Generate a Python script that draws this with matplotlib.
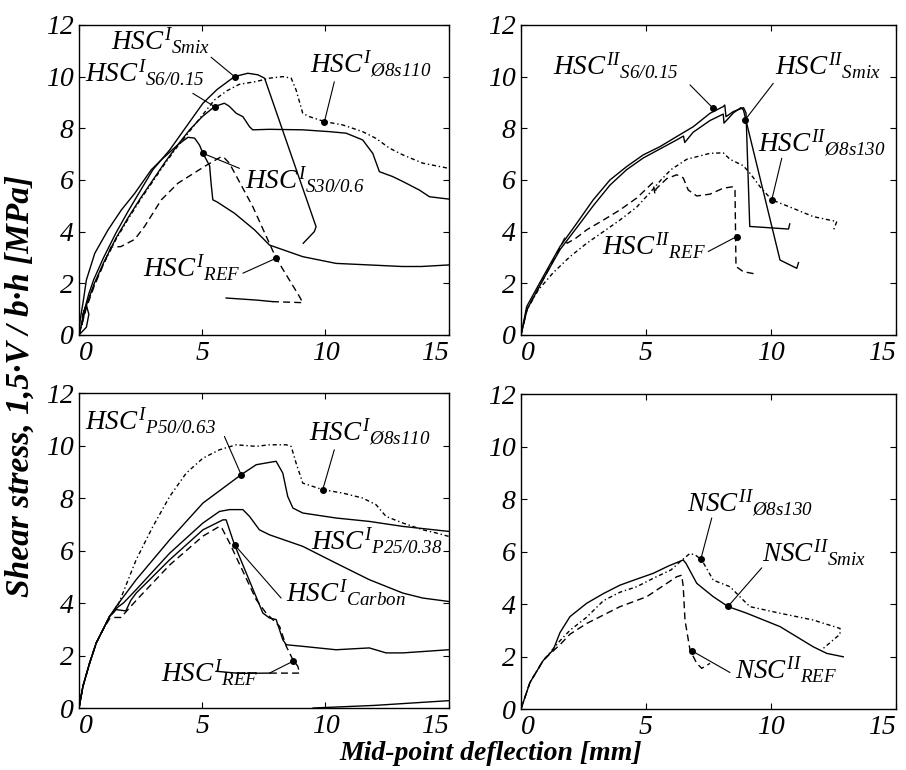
import matplotlib
matplotlib.use("Agg")
import matplotlib.pyplot as plt
from matplotlib import font_manager

# ---- top-left panel (HSC I, steel fibres) ----
TL_SMIX_X = [0, 0.3, 0.4, 0.3, 0.15, 0.12, 0.2, 0.4, 0.6, 1.0, 1.5, 2.0, 2.5, 3.0, 3.68, 4.35, 5.03, 5.6, 6.31, 6.85, 7.26, 7.53, 9.62, 9.55, 9.35, 9.1]
TL_SMIX_Y = [0, 0.3, 0.8, 1.15, 0.8, 0.4, 0.9, 1.6, 2.15, 3.0, 3.95, 4.8, 5.6, 6.4, 7.16, 8.06, 8.97, 9.5, 10.0, 10.13, 10.07, 9.94, 4.19, 4.0, 3.8, 3.55]
TL_S30_X = [0, 0.05, 0.16, 0.30, 0.64, 1.18, 1.72, 2.26, 2.93, 3.34, 4.01, 4.42, 4.69, 4.89, 5.03, 5.30, 5.36, 5.43, 5.6, 6.31, 7.12, 7.73, 9.08, 10.43, 11.78, 13.1, 13.9, 15.0]
TL_S30_Y = [0, 0.6, 1.23, 2.13, 3.16, 4.07, 4.84, 5.48, 6.39, 6.78, 7.36, 7.65, 7.62, 7.35, 7.03, 6.55, 5.87, 5.23, 5.15, 4.71, 4.07, 3.48, 3.03, 2.77, 2.71, 2.65, 2.65, 2.71]
TL_S6_X = [0, 0.3, 0.6, 1.0, 1.5, 2.0, 2.5, 3.0, 3.5, 4.0, 4.5, 5.0, 5.5, 5.9, 6.1, 6.38, 6.65, 6.92, 7.05, 7.73, 9.08, 10.16, 10.84, 11.51, 11.92, 12.19, 12.73, 13.14, 13.81, 14.22, 15.0]
TL_S6_Y = [0, 1.15, 1.95, 2.8, 3.75, 4.55, 5.3, 6.0, 6.7, 7.35, 7.95, 8.45, 8.84, 8.97, 8.85, 8.58, 8.45, 8.06, 7.94, 7.96, 7.94, 7.87, 7.81, 7.55, 7.03, 6.32, 6.13, 5.94, 5.61, 5.35, 5.26]
TL_D8_X = [0, 0.3, 0.6, 1.0, 1.5, 2.0, 2.5, 3.0, 3.5, 4.0, 4.5, 5.0, 5.5, 6.0, 6.5, 7.19, 7.73, 8.27, 8.61, 8.81, 9.08, 9.35, 9.96, 10.7, 11.51, 12.05, 12.6, 13.14, 13.95, 15.0]
TL_D8_Y = [0, 1.1, 1.9, 2.75, 3.7, 4.5, 5.25, 5.95, 6.65, 7.3, 7.9, 8.5, 9.1, 9.45, 9.7, 9.81, 9.94, 10.0, 9.94, 9.48, 8.58, 8.45, 8.26, 8.13, 7.87, 7.61, 7.23, 6.97, 6.65, 6.45]
TL_REF_X = [0, 0.3, 0.6, 1.0, 1.3, 1.7, 2.26, 2.66, 3.34, 4.01, 5.09, 5.77, 5.9, 6.1, 7.05, 8.0, 8.95, 9.08, 7.86]
TL_REF_Y = [0, 1.05, 1.85, 2.75, 3.4, 3.42, 3.7, 4.2, 5.23, 5.87, 6.52, 6.9, 6.85, 6.65, 4.97, 2.97, 1.48, 1.25, 1.29]
TL_TAIL_X = [7.86, 7.2, 5.97]
TL_TAIL_Y = [1.29, 1.35, 1.43]

# ---- top-right panel (HSC II) ----
TR_S6_X = [0, 0.23, 0.89, 1.56, 2.23, 2.89, 3.56, 4.23, 4.89, 5.56, 6.23, 6.89, 7.56, 8.09, 8.15, 8.2, 8.5, 8.9, 9.0, 9.15, 10.7, 10.75]
TR_S6_Y = [0, 1.1, 2.26, 3.42, 4.32, 5.23, 6.0, 6.52, 6.97, 7.29, 7.68, 8.06, 8.58, 8.84, 8.9, 8.45, 8.65, 8.8, 8.6, 4.2, 4.1, 4.3]
TR_SMIX_X = [0, 0.25, 0.89, 1.56, 2.23, 2.89, 3.56, 4.23, 4.89, 5.56, 6.23, 6.5, 6.55, 6.89, 7.56, 8.09, 8.12, 8.5, 8.8, 8.9, 10.36, 11.03, 11.1]
TR_SMIX_Y = [0, 1.0, 2.15, 3.3, 4.15, 5.0, 5.8, 6.4, 6.85, 7.2, 7.55, 7.7, 7.45, 7.85, 8.3, 8.55, 8.2, 8.6, 8.8, 8.7, 2.9, 2.58, 2.8]
TR_D8_X = [0, 0.23, 0.7, 1.28, 1.96, 2.63, 3.3, 3.96, 4.63, 5.2, 5.6, 6.0, 6.63, 7.56, 8.09, 8.36, 8.89, 9.16, 9.56, 10.03, 10.89, 11.69, 12.63, 12.5]
TR_D8_Y = [0, 0.97, 1.75, 2.4, 3.03, 3.55, 4.0, 4.45, 4.95, 5.55, 6.0, 6.4, 6.8, 7.03, 7.05, 6.8, 6.55, 6.26, 5.74, 5.23, 4.9, 4.58, 4.39, 4.06]
TR_REF_X = [0, 0.25, 0.89, 1.5, 1.75, 1.85, 2.2, 2.63, 3.3, 3.96, 4.63, 5.28, 5.36, 5.4, 5.83, 6.23, 6.49, 6.69, 7.03, 7.56, 8.09, 8.49, 8.56, 8.6, 8.89, 9.43]
TR_REF_Y = [0, 1.0, 2.15, 3.25, 3.75, 3.55, 3.75, 4.07, 4.45, 4.84, 5.3, 5.9, 5.45, 5.65, 6.05, 6.2, 6.08, 5.61, 5.38, 5.45, 5.68, 5.74, 5.6, 2.65, 2.45, 2.35]

# ---- bottom-left panel (HSC I, other fibres) ----
BL_D8_X = [0, 0.16, 0.43, 0.7, 0.97, 1.24, 1.51, 1.78, 2.32, 3.0, 3.68, 4.35, 5.03, 5.7, 6.38, 7.19, 7.73, 8.41, 8.61, 8.81, 9.08, 9.89, 10.7, 11.51, 12.05, 12.46, 13.14, 13.95, 14.49, 15.0]
BL_D8_Y = [0, 0.83, 1.71, 2.48, 2.98, 3.49, 3.75, 4.38, 5.65, 6.92, 8.06, 8.95, 9.52, 9.84, 10.03, 9.97, 10.03, 10.03, 9.97, 9.33, 8.57, 8.32, 8.19, 8.0, 7.75, 7.3, 7.05, 6.79, 6.67, 6.54]
BL_P50_X = [0, 0.16, 0.43, 0.7, 0.97, 1.24, 1.51, 2.32, 3.68, 5.03, 6.58, 7.19, 7.73, 8.0, 8.27, 8.47, 8.68, 9.08, 10.43, 11.78, 13.14, 15.0]
BL_P50_Y = [0, 0.83, 1.71, 2.48, 2.98, 3.49, 3.87, 4.89, 6.41, 7.81, 8.89, 9.27, 9.36, 9.4, 8.95, 8.06, 7.62, 7.43, 7.24, 7.11, 6.92, 6.73]
BL_P25_X = [0, 0.16, 0.43, 0.7, 0.97, 1.24, 1.51, 1.8, 2.32, 3.68, 5.03, 5.7, 6.11, 6.65, 6.92, 7.32, 7.73, 9.08, 10.43, 11.78, 13.14, 13.95, 15.0]
BL_P25_Y = [0, 0.83, 1.71, 2.48, 2.98, 3.49, 3.8, 4.0, 4.51, 5.9, 7.05, 7.49, 7.56, 7.56, 7.3, 6.79, 6.6, 6.16, 5.52, 4.89, 4.38, 4.19, 4.06]
BL_CARB_X = [0, 0.16, 0.43, 0.7, 0.97, 1.24, 1.51, 1.9, 2.1, 2.32, 3.68, 5.03, 5.84, 5.97, 6.31, 7.46, 7.73, 8.0, 8.27, 8.41, 9.08, 10.43, 11.78, 12.46, 13.14, 15.0]
BL_CARB_Y = [0, 0.83, 1.71, 2.48, 2.98, 3.49, 3.75, 3.7, 4.1, 4.38, 5.65, 6.79, 7.17, 7.17, 6.22, 3.62, 3.43, 3.37, 2.6, 2.41, 2.35, 2.22, 2.29, 2.1, 2.1, 2.22]
BL_REF_X = [0, 0.16, 0.43, 0.7, 0.97, 1.24, 1.4, 1.7, 2.32, 3.68, 5.03, 5.7, 5.8, 6.11, 7.19, 7.59, 8.14, 8.41, 8.68, 8.88, 8.95, 7.73]
BL_REF_Y = [0, 0.83, 1.71, 2.48, 2.98, 3.4, 3.45, 3.45, 4.1, 5.45, 6.55, 6.92, 6.85, 6.29, 4.13, 3.62, 3.11, 2.35, 1.84, 1.59, 1.33, 1.33]
BL_TAIL_X = [7.73, 6.5, 5.57]
BL_TAIL_Y = [1.33, 1.32, 1.4]
BL_RESID_X = [9.5, 12.0, 15.0]
BL_RESID_Y = [0.0, 0.1, 0.28]

# ---- bottom-right panel (NSC II) ----
BR_SMIX_X = [0, 0.36, 0.89, 1.29, 1.56, 1.96, 2.63, 3.3, 3.96, 4.63, 5.29, 5.9, 6.49, 6.6, 7.03, 7.69, 8.29, 9.03, 10.36, 11.69, 12.23, 12.89]
BR_SMIX_Y = [0, 1.01, 1.85, 2.25, 2.91, 3.52, 4.03, 4.4, 4.72, 4.95, 5.17, 5.45, 5.68, 5.55, 4.79, 4.28, 3.9, 3.65, 3.14, 2.37, 2.12, 1.99]
BR_D8_X = [0, 0.36, 0.89, 1.16, 1.56, 1.96, 2.63, 3.3, 3.96, 4.63, 5.29, 6.0, 6.36, 6.76, 7.0, 7.23, 7.69, 8.36, 8.89, 9.16, 10.36, 11.69, 12.76, 12.76, 12.09]
BR_D8_Y = [0, 1.01, 1.85, 2.15, 2.6, 3.0, 3.5, 4.13, 4.45, 4.66, 4.98, 5.3, 5.61, 5.93, 5.85, 5.68, 4.91, 4.66, 4.15, 3.9, 3.65, 3.39, 3.07, 2.85, 2.31]
BR_REF_X = [0, 0.36, 0.89, 1.16, 1.56, 1.96, 2.63, 3.96, 5.03, 6.23, 6.43, 6.49, 6.56, 6.76, 7.03, 7.23, 7.56]
BR_REF_Y = [0, 1.01, 1.85, 2.1, 2.45, 2.85, 3.26, 3.9, 4.28, 5.04, 5.1, 4.66, 3.39, 2.25, 1.74, 1.55, 1.74]

# labels: (text, text x, text y, leader start x, leader start y, marker x, marker y)
TL_LABELS = [
    (r"$HSC^{I}{}_{Smix}$", 1.31, 11.03, 5.36, 10.75, 6.31, 10.0),
    (r"$HSC^{I}{}_{S6/0.15}$", 0.23, 9.8, 4.62, 9.35, 5.5, 8.84),
    (r"$HSC^{I}{}_{Ø8s110}$", 9.38, 10.19, 10.36, 9.8, 9.96, 8.26),
    (r"$HSC^{I}{}_{S30/0.6}$", 6.72, 5.68, 6.51, 6.45, 5.03, 7.03),
    (r"$HSC^{I}{}_{REF}$", 2.59, 2.26, 6.65, 2.39, 8.0, 2.97),
]
TR_LABELS = [
    (r"$HSC^{II}{}_{S6/0.15}$", 1.29, 10.06, 6.76, 9.68, 7.69, 8.77),
    (r"$HSC^{II}{}_{Smix}$", 10.16, 10.06, 10.09, 9.74, 8.96, 8.32),
    (r"$HSC^{II}{}_{Ø8s130}$", 9.47, 7.1, 10.43, 6.84, 10.03, 5.23),
    (r"$HSC^{II}{}_{REF}$", 3.23, 3.1, 7.49, 3.23, 8.63, 3.81),
]
BL_LABELS = [
    (r"$HSC^{I}{}_{P50/0.63}$", 0.23, 10.6, 5.9, 10.35, 6.58, 8.89),
    (r"$HSC^{I}{}_{Ø8s110}$", 9.35, 10.22, 10.36, 9.84, 9.89, 8.32),
    (r"$HSC^{I}{}_{P25/0.38}$", 9.42, 6.03, None, None, None, None),
    (r"$HSC^{I}{}_{Carbon}$", 8.4, 4.06, 8.2, 4.19, 6.31, 6.22),
    (r"$HSC^{I}{}_{REF}$", 3.34, 1.02, 7.73, 1.33, 8.68, 1.78),
]
BR_LABELS = [
    (r"$NSC^{II}{}_{Ø8s130}$", 6.63, 7.53, 7.63, 7.28, 7.19, 5.7),
    (r"$NSC^{II}{}_{Smix}$", 9.63, 5.63, 9.63, 5.38, 8.29, 3.92),
    (r"$NSC^{II}{}_{REF}$", 8.56, 1.14, 8.36, 1.39, 6.83, 2.22),
]

X_TICKS = [0, 5, 10, 15]
Y_TICKS = [0, 2, 4, 6, 8, 10, 12]

plt.rcParams['font.family'] = 'Liberation Serif'
plt.rcParams['font.style'] = 'italic'
plt.rcParams['mathtext.fontset'] = 'custom'
plt.rcParams['mathtext.it'] = 'Liberation Serif:italic'
plt.rcParams['mathtext.rm'] = 'Liberation Serif:italic'

# tick digits in the italic face, picked by file so the style cannot get lost
ITALIC_FILE = font_manager.findfont(
    font_manager.FontProperties(family='Liberation Serif', style='italic'))
TICK_FP = font_manager.FontProperties(fname=ITALIC_FILE, size=20)

SOLID = dict(color='black', lw=1.0, ls='-')
DASHED = dict(color='black', lw=1.0, ls=(0, (5, 3)))
DASHDOT = dict(color='black', lw=1.0, ls=(0, (3, 2, 1, 2)))


def setup(ax):
    ax.set_xlim(0, 15)
    ax.set_ylim(0, 12)
    ax.tick_params(direction='in', length=4, width=0.8,
                   top=True, right=True, pad=4)
    ax.set_xticks(X_TICKS)
    ax.set_yticks(Y_TICKS)
    ax.set_xticklabels([str(t) for t in X_TICKS])
    ax.set_yticklabels([str(t) for t in Y_TICKS])
    for lab in ax.get_xticklabels() + ax.get_yticklabels():
        lab.set_fontproperties(TICK_FP)
    xl = ax.get_xticklabels()
    xl[0].set_ha('left')
    xl[-1].set_ha('right')
    for s in ax.spines.values():
        s.set_linewidth(1.0)


def add_labels(ax, labels):
    for text, tx, ty, lx, ly, mx, my in labels:
        ax.text(tx, ty, text, fontsize=19.5, ha='left', va='baseline')
        if mx is not None:
            ax.annotate('', xy=(mx, my), xytext=(lx, ly),
                        arrowprops=dict(arrowstyle='-', lw=0.8, color='black',
                                        shrinkA=0, shrinkB=0))
            ax.plot(mx, my, 'o', color='black', ms=4)


fig = plt.figure(figsize=(9.06, 7.7), dpi=100)
ax_tl = fig.add_axes([0.0872, 0.565, 0.408, 0.4026])
ax_tr = fig.add_axes([0.575, 0.565, 0.414, 0.4026])
ax_bl = fig.add_axes([0.0872, 0.0805, 0.408, 0.409])
ax_br = fig.add_axes([0.575, 0.0792, 0.414, 0.409])

# top-left
ax_tl.plot(TL_SMIX_X, TL_SMIX_Y, **SOLID)
ax_tl.plot(TL_S30_X, TL_S30_Y, **SOLID)
ax_tl.plot(TL_S6_X, TL_S6_Y, **SOLID)
ax_tl.plot(TL_D8_X, TL_D8_Y, **DASHDOT)
ax_tl.plot(TL_REF_X, TL_REF_Y, **DASHED)
ax_tl.plot(TL_TAIL_X, TL_TAIL_Y, **SOLID)
add_labels(ax_tl, TL_LABELS)

# top-right
ax_tr.plot(TR_S6_X, TR_S6_Y, **SOLID)
ax_tr.plot(TR_SMIX_X, TR_SMIX_Y, **SOLID)
ax_tr.plot(TR_D8_X, TR_D8_Y, **DASHDOT)
ax_tr.plot(TR_REF_X, TR_REF_Y, **DASHED)
add_labels(ax_tr, TR_LABELS)

# bottom-left
ax_bl.plot(BL_D8_X, BL_D8_Y, **DASHDOT)
ax_bl.plot(BL_P50_X, BL_P50_Y, **SOLID)
ax_bl.plot(BL_P25_X, BL_P25_Y, **SOLID)
ax_bl.plot(BL_CARB_X, BL_CARB_Y, **SOLID)
ax_bl.plot(BL_REF_X, BL_REF_Y, **DASHED)
ax_bl.plot(BL_TAIL_X, BL_TAIL_Y, **SOLID)
ax_bl.plot(BL_RESID_X, BL_RESID_Y, **SOLID)
add_labels(ax_bl, BL_LABELS)

# bottom-right
ax_br.plot(BR_SMIX_X, BR_SMIX_Y, **SOLID)
ax_br.plot(BR_D8_X, BR_D8_Y, **DASHDOT)
ax_br.plot(BR_REF_X, BR_REF_Y, **DASHED)
add_labels(ax_br, BR_LABELS)

for ax in (ax_tl, ax_tr, ax_bl, ax_br):
    setup(ax)

fig.text(0.022, 0.499, "Shear stress, 1,5·V / b·h [MPa]", rotation=90,
         ha='center', va='center', fontsize=24, fontweight='bold', fontstyle='italic')
fig.text(0.542, 0.022, "Mid-point deflection [mm]", ha='center', va='center',
         fontsize=20, fontweight='bold', fontstyle='italic')

fig.savefig("out.png", dpi=100, facecolor='white')
